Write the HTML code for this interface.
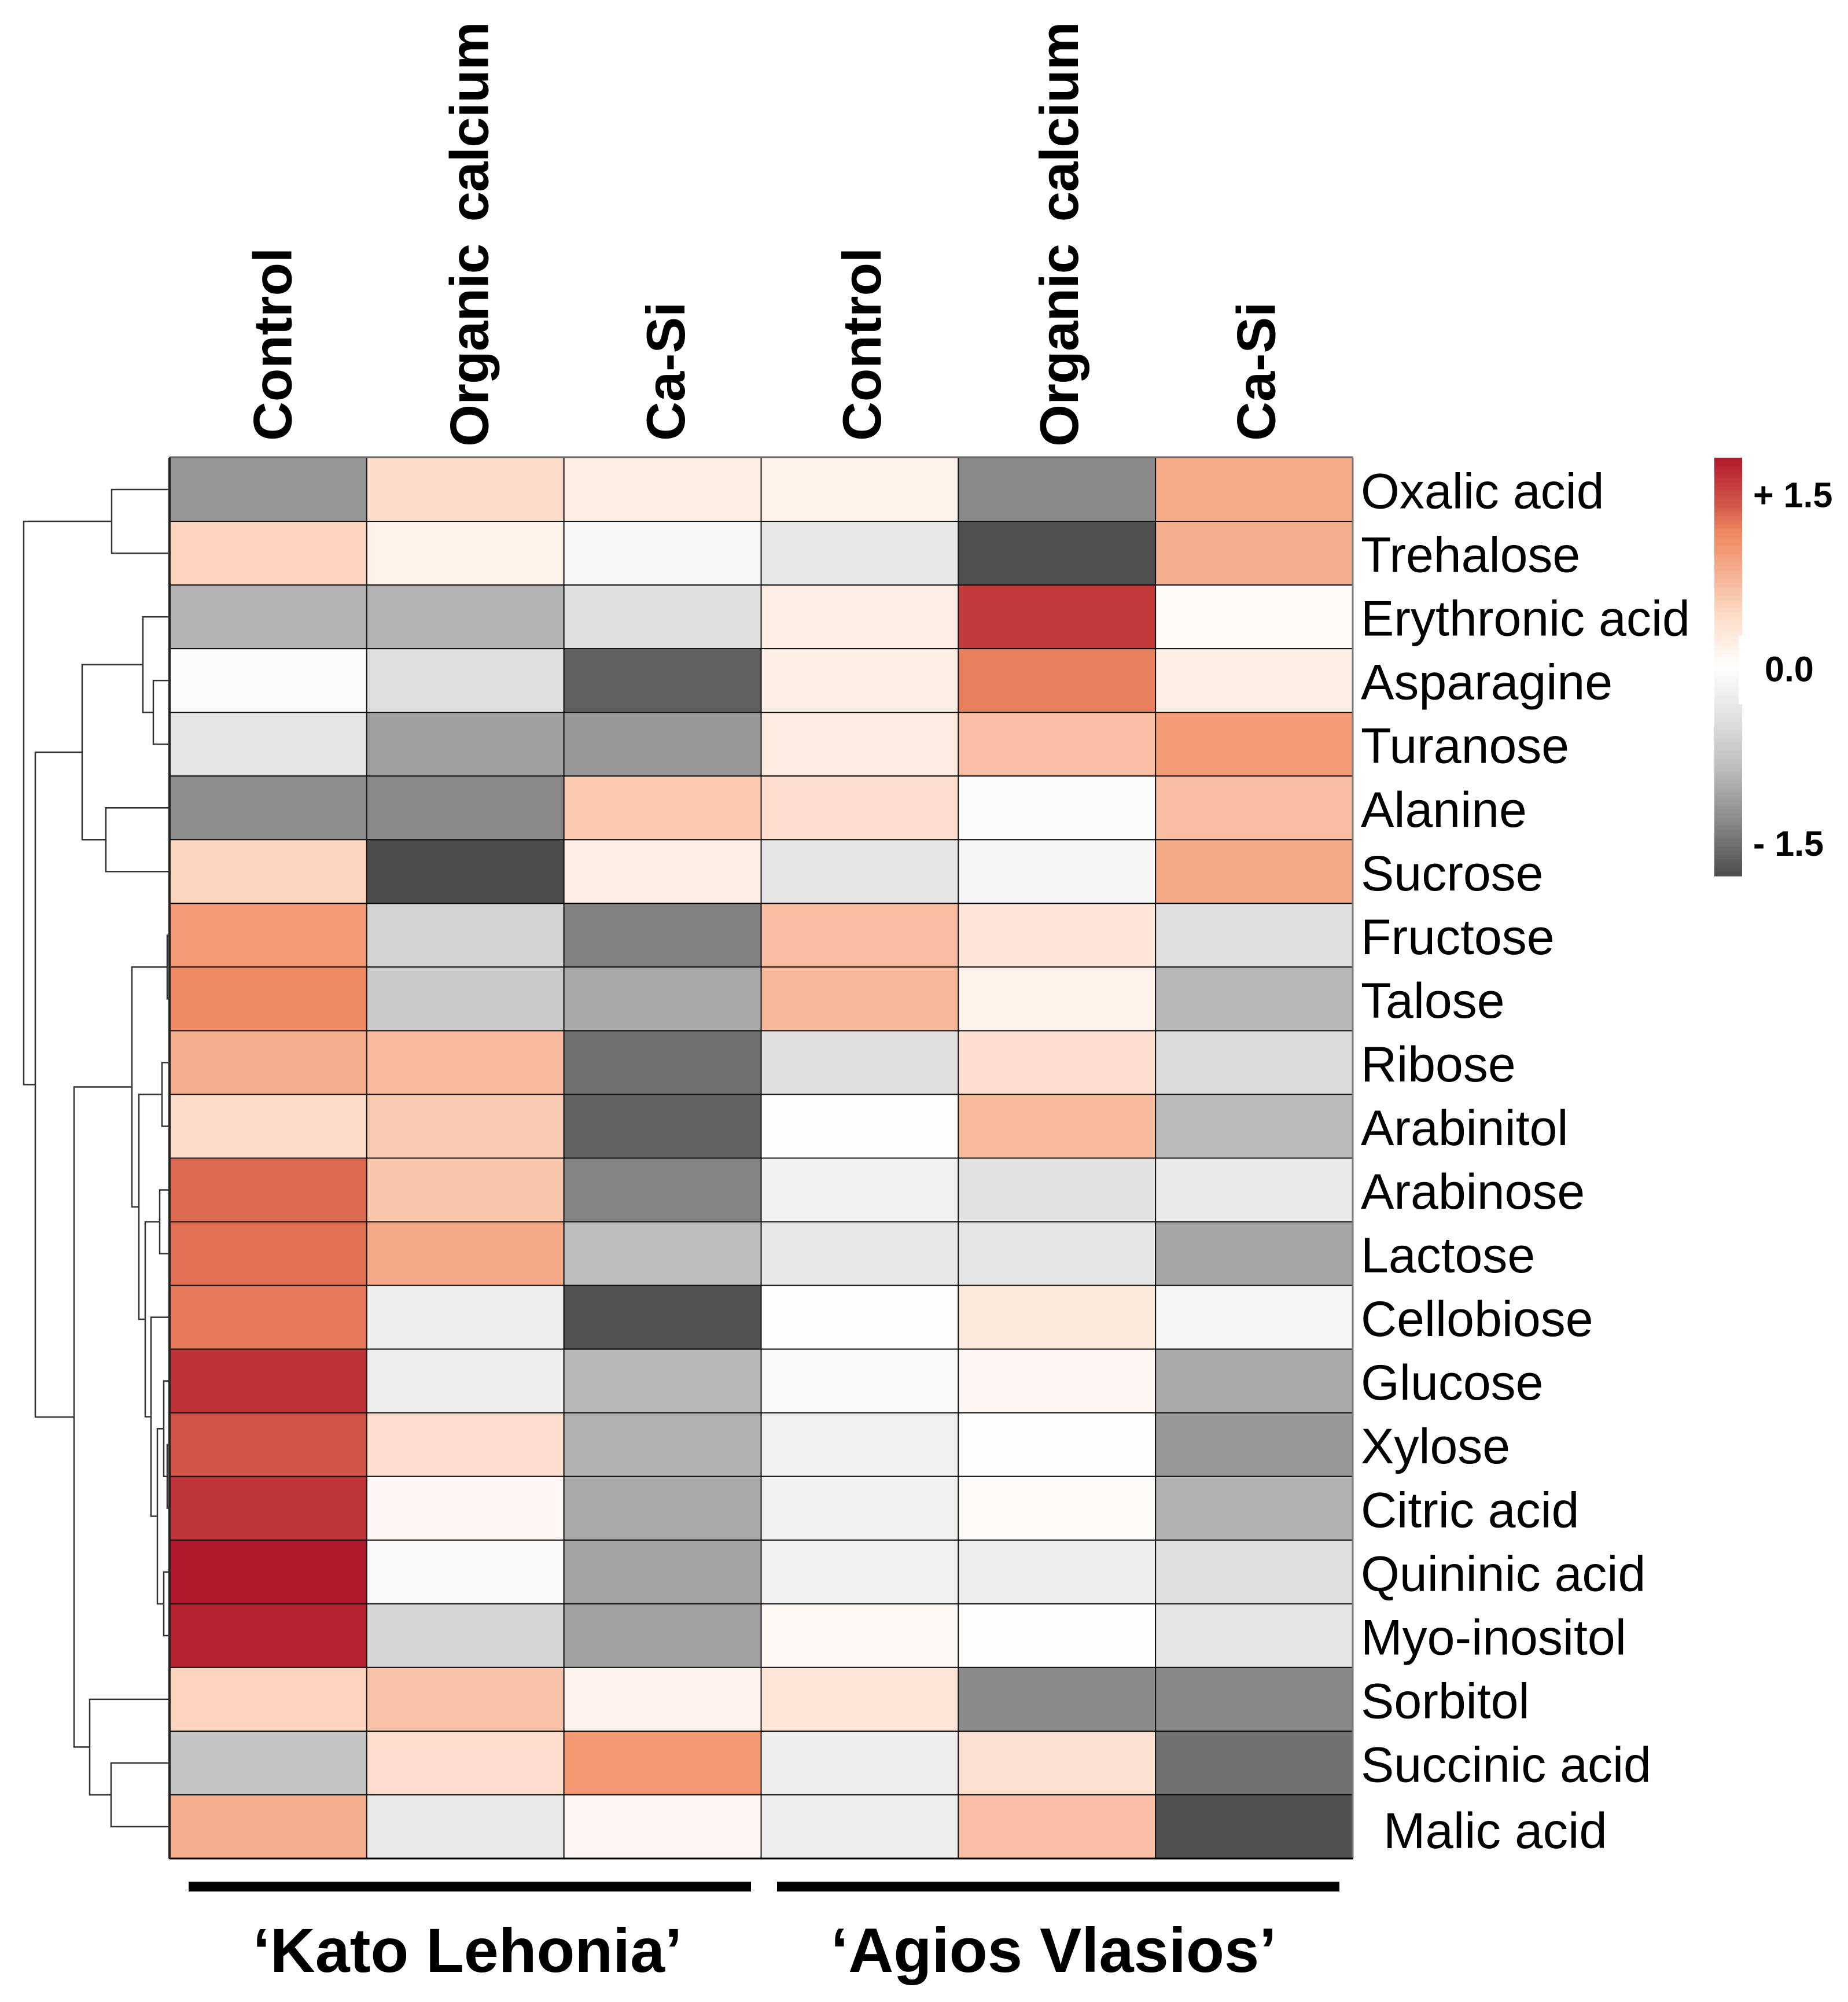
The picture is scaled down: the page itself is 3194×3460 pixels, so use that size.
<!DOCTYPE html>
<html lang="en">
<head>
<meta charset="utf-8">
<title>Metabolite heatmap</title>
<style>
html,body{margin:0;padding:0;background:#fff;}
svg{display:block;}
text{font-family:"Liberation Sans",Arial,sans-serif;fill:#000;}
</style>
</head>
<body>
<svg id="chart" xmlns="http://www.w3.org/2000/svg" width="3194" height="3460" viewBox="0 0 3194 3460">
<rect x="0" y="0" width="3194" height="3460" fill="#ffffff"/>
</svg>
<script>
const columnLabels = ['Control','Organic calcium','Ca-Si','Control','Organic calcium','Ca-Si'];
const groupLabels = ['\u2018Kato Lehonia\u2019','\u2018Agios Vlasios\u2019'];
const rowLabels = ['Oxalic acid','Trehalose','Erythronic acid','Asparagine','Turanose','Alanine','Sucrose','Fructose','Talose','Ribose','Arabinitol','Arabinose','Lactose','Cellobiose','Glucose','Xylose','Citric acid','Quininic acid','Myo-inositol','Sorbitol','Succinic acid','Malic acid'];
const zValues = [
[-1.22,0.43,0.23,0.16,-1.33,0.85],
[0.52,0.16,-0.12,-0.33,-1.78,0.82],
[-0.96,-0.96,-0.45,0.22,1.59,0.05],
[-0.06,-0.45,-1.65,0.20,1.20,0.20],
[-0.38,-1.13,-1.20,0.25,0.68,0.99],
[-1.30,-1.32,0.60,0.42,-0.04,0.70],
[0.50,-1.80,0.22,-0.36,-0.14,0.87],
[0.99,-0.60,-1.40,0.70,0.30,-0.46],
[1.15,-0.72,-1.06,0.75,0.16,-0.92],
[0.82,0.72,-1.52,-0.45,0.40,-0.50],
[0.43,0.58,-1.63,-0.02,0.72,-0.90],
[1.30,0.63,-1.37,-0.20,-0.42,-0.30],
[1.27,0.87,-0.85,-0.33,-0.38,-1.08],
[1.23,-0.24,-1.75,-0.02,0.27,-0.14],
[1.64,-0.24,-0.93,-0.07,0.10,-1.05],
[1.41,0.40,-0.97,-0.20,-0.02,-1.20],
[1.62,0.10,-1.05,-0.20,0.05,-0.97],
[1.80,-0.08,-1.10,-0.20,-0.25,-0.45],
[1.74,-0.58,-1.12,0.08,-0.02,-0.37],
[0.52,0.65,0.15,0.33,-1.32,-1.35],
[-0.78,0.42,1.02,-0.25,0.38,-1.52],
[0.82,-0.32,0.10,-0.25,0.68,-1.77]
];
const mergeLeft = [0,3,2,5,'m2',7,9,11,15,14,17,'m9',13,'m7','m6','m5',20,19,'m15','m4','m0'];
const mergeRight = [1,4,'m1',6,'m3',8,10,12,16,'m8',18,'m10','m11','m12','m13','m14',21,'m16','m17','m18','m19'];
const mergeHeights = [1.00,0.28,0.46,1.10,1.51,0.04,0.13,0.17,0.04,0.10,0.10,0.21,0.32,0.42,0.53,0.65,1.01,1.38,1.65,2.32,2.52];
const legendTicks = [1.5,0,-1.5];
const legendTickLabels = ['+ 1.5','0.0','- 1.5'];
const legendExtent = [-1.8,1.8];
const rampValues = [-1.8,-1.35,-0.9,-0.45,0,0.45,0.9,1.15,1.35,1.8];
const rampColors = ['#4d4d4d','#878787','#bababa','#e0e0e0','#ffffff','#fddbc7','#f4a582','#ef8a62','#d6604d','#b2182b'];

const svg = document.getElementById('chart');
const NS = 'http://www.w3.org/2000/svg';
const plotLeft = 293, plotTop = 791, plotRight = 2338, plotBottom = 3212;
const colW = (plotRight - plotLeft) / columnLabels.length;
const rowH = (plotBottom - plotTop) / rowLabels.length;
const xCol = i => plotLeft + colW * i;
const yRow = i => plotTop + rowH * i;
const xDendro = h => plotLeft - h * 100;
const legendTop = 791, legendBottom = 1514;
const yLegend = v => legendTop + (legendExtent[1] - v) / (legendExtent[1] - legendExtent[0]) * (legendBottom - legendTop);
function rgb(h){return [1,3,5].map(p=>parseInt(h.substr(p,2),16));}
function colorOf(v){
  const c = Math.max(rampValues[0], Math.min(rampValues[rampValues.length - 1], v));
  let i = 0;
  while (i < rampValues.length - 2 && c > rampValues[i + 1]) i++;
  const f = (c - rampValues[i]) / (rampValues[i + 1] - rampValues[i]);
  const a = rgb(rampColors[i]), b = rgb(rampColors[i + 1]);
  return 'rgb(' + a.map((p, k) => Math.round(p + (b[k] - p) * f)).join(',') + ')';
}
function make(tag, attrs, parent){
  const e = document.createElementNS(NS, tag);
  for (const k in attrs) e.setAttribute(k, attrs[k]);
  (parent || svg).appendChild(e);
  return e;
}
function slug(s){return s.toLowerCase().replace(/[^a-z0-9]+/g,'-').replace(/^-|-$/g,'');}

/* heatmap cells */
const cellsGroup = make('g', {});


zValues.forEach((row, r) => row.forEach((v, c) => {
  const cell = make('rect', {x:xCol(c), y:yRow(r), width:colW, height:rowH, fill:colorOf(v), stroke:'#111', 'stroke-width':2}, cellsGroup);
  
  
}));

/* heatmap frame */
const frameTop = make('line', {x1:plotLeft, x2:plotRight + 1, y1:plotTop - 1, y2:plotTop - 1, stroke:'#777', 'stroke-width':3});


const frameRight = make('line', {x1:plotRight, x2:plotRight, y1:plotTop, y2:plotBottom, stroke:'#777', 'stroke-width':3});


const frameBottom = make('line', {x1:plotLeft, x2:plotRight + 1, y1:plotBottom, y2:plotBottom, stroke:'#000', 'stroke-width':3});


const frameLeft = make('line', {x1:plotLeft, x2:plotLeft, y1:plotTop, y2:plotBottom, stroke:'#222', 'stroke-width':4});



/* row dendrogram */
const dendro = make('g', {fill:'none', stroke:'#333', 'stroke-width':2.5});


const nodes = {};
function resolve(ref){
  if (typeof ref === 'number') return {x:plotLeft, y:yRow(ref) + rowH / 2};
  return nodes[ref];
}
mergeHeights.forEach((h, i) => {
  const a = resolve(mergeLeft[i]), b = resolve(mergeRight[i]), x = xDendro(h);
  const branch = make('path', {d:'M' + a.x + ' ' + a.y + 'H' + x + 'V' + b.y + 'H' + b.x}, dendro);
  
  
  nodes['m' + i] = {x:x, y:(a.y + b.y) / 2};
});

/* column labels */
columnLabels.forEach((t, i) => {
  const bx = xCol(i) + colW / 2 + (i < 1 ? 40 : i === 1 ? 39 : i === 2 ? 38 : 36), by = (i % 3 === 1) ? 772 : 762;
  const label = make('text', {transform:'translate(' + bx + ' ' + by + ') rotate(-90)', 'font-size':94, 'font-weight':'bold', 'word-spacing':13, 'letter-spacing':i % 3 === 1 ? -0.7 : 0});
  label.textContent = t;
  
  
});

/* row labels */
rowLabels.forEach((t, i) => {
  const isLast = i === rowLabels.length - 1;
  const label = make('text', {x:isLast ? 2391 : 2352, y:yRow(i) + rowH / 2 + (isLast ? 37 : 32.5), 'font-size':isLast ? 87 : 86});
  label.textContent = t;
  
  
});

/* group bars and labels */
groupLabels.forEach((t, i) => {
  const start = xCol(i * 3);
  const bar = make('rect', {x:start + (i ? 27.5 : 33), y:3252, width:colW * 3 - 50.5, height:17, fill:'#000'});
  
  
  const label = make('text', {x:i ? 1436 : 437, y:3408, 'font-size':i ? 108.3 : 107.7, 'font-weight':'bold'});
  label.textContent = t;
  
  
});

/* colour legend */
const legend = make('g', {});


const legendSteps = 100;
for (let s = 0; s < legendSteps; s++) {
  const vTop = legendExtent[1] - (legendExtent[1] - legendExtent[0]) * s / legendSteps;
  const vNext = legendExtent[1] - (legendExtent[1] - legendExtent[0]) * (s + 1) / legendSteps;
  const band = make('rect', {x:2963, y:yLegend(vTop), width:48, height:yLegend(vNext) - yLegend(vTop) + 0.6, fill:colorOf((vTop + vNext) / 2)}, legend);
  
  
}
const notch = make('rect', {x:3005, y:1098, width:6, height:119, fill:'#fff'}, legend);


legendTicks.forEach((v, i) => {
  const label = make('text', {x:v === 0 ? 3050 : 3030, y:yLegend(v) + 25, 'font-size':61, 'font-weight':'bold'}, legend);
  label.textContent = legendTickLabels[i];
  
  
});
</script>
</body>
</html>
